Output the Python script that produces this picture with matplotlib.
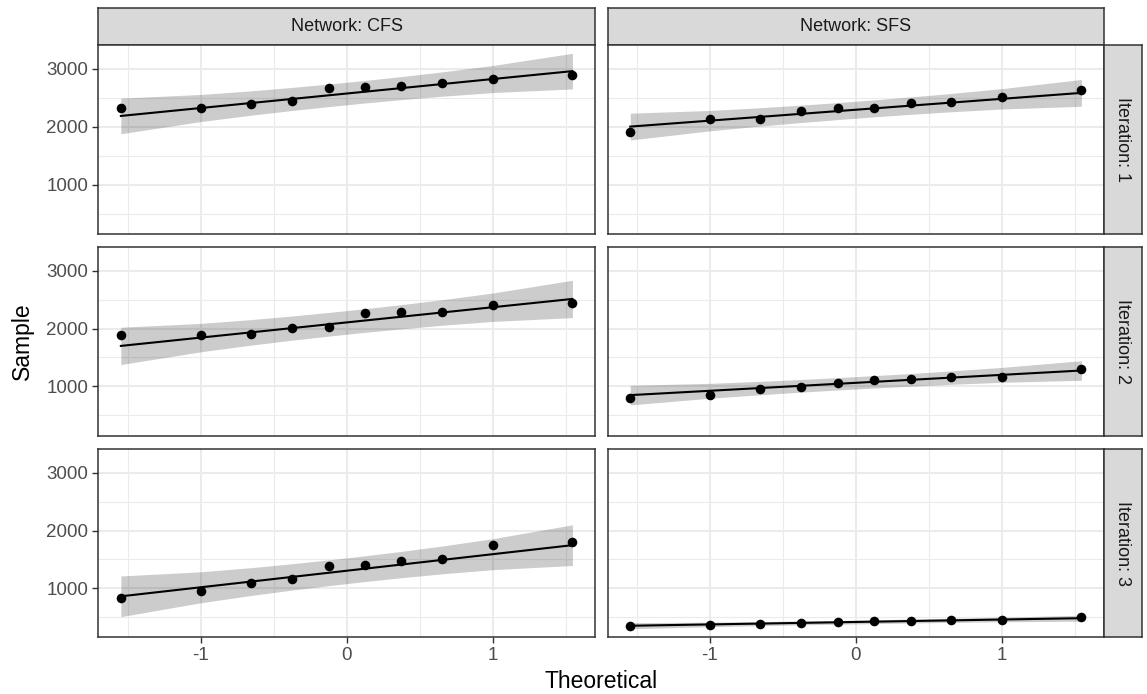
import numpy as np
import matplotlib
matplotlib.use("Agg")
import matplotlib.pyplot as plt

plt.rcParams['font.family'] = ['Liberation Sans', 'DejaVu Sans']

networks = ["CFS", "SFS"]
iterations = [1, 2, 3]

# sample values (sorted)
cfs_iter1 = [2316, 2321, 2390, 2441, 2660, 2690, 2700, 2752, 2821, 2884]
sfs_iter1 = [1907, 2126, 2131, 2269, 2316, 2321, 2402, 2424, 2517, 2626]
cfs_iter2 = [1888, 1895, 1900, 2014, 2026, 2266, 2283, 2283, 2404, 2443]
sfs_iter2 = [801, 852, 960, 990, 1058, 1103, 1127, 1162, 1167, 1292]
cfs_iter3 = [823, 949, 1093, 1161, 1389, 1395, 1480, 1503, 1749, 1795]
sfs_iter3 = [349, 366, 383, 395, 412, 424, 435, 446, 446, 493]

data = {
    ("CFS", 1): cfs_iter1, ("SFS", 1): sfs_iter1,
    ("CFS", 2): cfs_iter2, ("SFS", 2): sfs_iter2,
    ("CFS", 3): cfs_iter3, ("SFS", 3): sfs_iter3,
}

x_ticks = [-1, 0, 1]
y_ticks = [1000, 2000, 3000]
conf_level = 0.95


def qnorm(p):
    from math import erf, sqrt
    p = np.atleast_1d(p).astype(float)
    out = []
    for pi in p:
        lo, hi = -10.0, 10.0
        for _ in range(100):
            mid = 0.5 * (lo + hi)
            if 0.5 * (1 + erf(mid / sqrt(2))) < pi:
                lo = mid
            else:
                hi = mid
        out.append(0.5 * (lo + hi))
    return np.array(out)


def dnorm(z):
    return np.exp(-0.5 * z ** 2) / np.sqrt(2 * np.pi)


def qq_stats(vals):
    y = np.sort(np.asarray(vals, float))
    n = len(y)
    a = 3 / 8 if n <= 10 else 0.5
    P = (np.arange(1, n + 1) - a) / (n + 1 - 2 * a)
    z = qnorm(P)
    q = np.quantile(y, [0.25, 0.75])
    zq = qnorm([0.25, 0.75])
    slope = (q[1] - q[0]) / (zq[1] - zq[0])
    inter = q[0] - slope * zq[0]
    fit = inter + slope * z
    zz = qnorm([1 - (1 - conf_level) / 2])[0]
    se = (slope / dnorm(z)) * np.sqrt(P * (1 - P) / n)
    return z, y, fit, fit - zz * se, fit + zz * se


stats = {k: qq_stats(v) for k, v in data.items()}

allz = np.concatenate([s[0] for s in stats.values()])
ally = np.concatenate([np.concatenate([s[1], s[3], s[4]]) for s in stats.values()])
zr = allz.max() - allz.min()
yr = ally.max() - ally.min()
xlim = (allz.min() - 0.05 * zr, allz.max() + 0.05 * zr)
ylim = (ally.min() - 0.05 * yr, ally.max() + 0.05 * yr)

W, H = 1147, 694
fig = plt.figure(figsize=(W / 100, H / 100), dpi=100)

col_x = [(98.3, 595.0), (607.7, 1104.0)]
row_y = [(44.7, 234.3), (247.0, 435.5), (449.3, 637.3)]
strip_top = (8.0, 44.7)
strip_right = (1104.0, 1142.0)

border = "#333333"
strip_fill = "#D9D9D9"
grid_col = "#EBEBEB"
tick_col = "#4D4D4D"


def fig_rect(x0, x1, y0, y1):
    return [x0 / W, 1 - y1 / H, (x1 - x0) / W, (y1 - y0) / H]


for ci, net in enumerate(networks):
    x0, x1 = col_x[ci]
    sax = fig.add_axes(fig_rect(x0, x1, *strip_top))
    sax.set_facecolor(strip_fill)
    sax.set_xticks([]); sax.set_yticks([])
    for sp in sax.spines.values():
        sp.set_color(border); sp.set_linewidth(1.1)
    sax.text(0.5, 0.5, f"Network: {net}", ha="center", va="center",
             fontsize=13, color="#1A1A1A", transform=sax.transAxes)
    for ri, it in enumerate(iterations):
        y0, y1 = row_y[ri]
        ax = fig.add_axes(fig_rect(x0, x1, y0, y1))
        z, y, fit, lo, hi = stats[(net, it)]
        ax.set_xlim(*xlim); ax.set_ylim(*ylim)
        ax.set_xticks(x_ticks)
        ax.set_yticks(y_ticks)
        ax.set_xticks([-1.5, -0.5, 0.5, 1.5], minor=True)
        ax.set_yticks([500, 1500, 2500], minor=True)
        ax.grid(True, which="major", color=grid_col, linewidth=1.5, zorder=0)
        ax.grid(True, which="minor", color=grid_col, linewidth=0.8, zorder=0)
        ax.tick_params(which="minor", length=0)
        ax.set_axisbelow(True)
        ax.fill_between(z, lo, hi, color="black", alpha=0.2, linewidth=0, zorder=1)
        ax.plot(z, fit, color="black", linewidth=1.5, zorder=2)
        ax.scatter(z, y, s=48, color="black", linewidths=0, zorder=3)
        for sp in ax.spines.values():
            sp.set_color(border); sp.set_linewidth(1.1)
        ax.tick_params(which="major", length=4.3, width=1.0, color=border,
                       labelsize=13.5, labelcolor=tick_col, pad=3)
        if ci != 0:
            ax.set_yticklabels([])
            ax.tick_params(axis="y", which="major", length=0)
        else:
            ax.set_yticklabels([str(t) for t in y_ticks])
        if ri != len(iterations) - 1:
            ax.set_xticklabels([])
            ax.tick_params(axis="x", which="major", length=0)
        else:
            ax.set_xticklabels([str(t) for t in x_ticks])
        if ci == len(networks) - 1:
            rax = fig.add_axes(fig_rect(strip_right[0], strip_right[1], y0, y1))
            rax.set_facecolor(strip_fill)
            rax.set_xticks([]); rax.set_yticks([])
            for sp in rax.spines.values():
                sp.set_color(border); sp.set_linewidth(1.1)
            rax.text(0.5, 0.5, f"Iteration: {it}", ha="center", va="center",
                     rotation=-90, fontsize=13, color="#1A1A1A",
                     transform=rax.transAxes)

fig.text((98.3 + 1104) / 2 / W, 1 - 681 / H, "Theoretical", ha="center",
         va="center", fontsize=16.5, color="black")
fig.text(22 / W, 1 - ((44.7 + 637.3) / 2) / H, "Sample", ha="center",
         va="center", rotation=90, fontsize=16.5, color="black")

fig.savefig("out.png", dpi=100, facecolor="white")
